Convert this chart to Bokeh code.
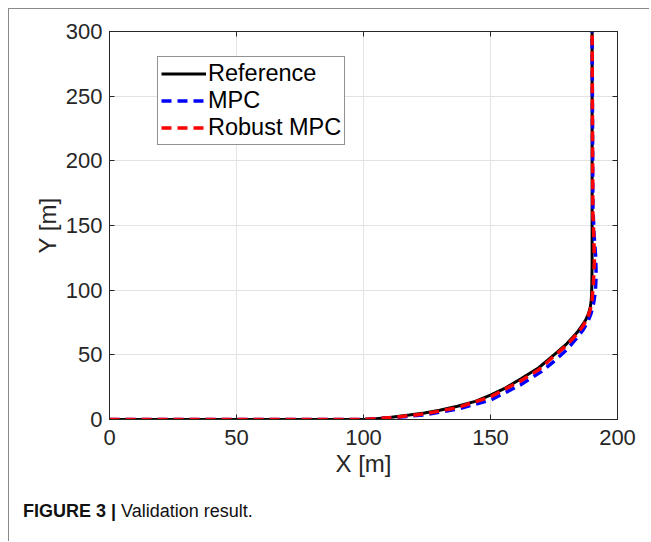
from bokeh.plotting import figure
from bokeh.models import (Range1d, LinearAxis, FixedTicker, Legend, LegendItem, Div)
from bokeh.layouts import column
from bokeh.embed import file_html
from bokeh.resources import INLINE

# ---- data ----
ref_x = [0, 100, 105, 111, 118, 124, 130, 137, 144, 150, 156, 162, 169, 175, 180, 184, 186, 187.5, 188.5, 189.2, 189.6, 189.8, 189.9, 190, 190]
ref_y = [0, 0, 0.6, 1.8, 3.4, 5, 7.2, 10.2, 14, 18.8, 24.5, 31.5, 40, 50, 58.5, 67, 72.5, 77, 81.5, 86, 91, 97, 105, 120, 300]

mpc_x = [0, 100, 111, 124, 137, 150, 162, 170, 175, 180, 184, 186.5, 188.3, 189.6, 190.6, 191.3, 191.6, 191.4, 190.8, 190.3, 190]
mpc_y = [0, 0, 1.3, 3.6, 8, 15, 27, 37, 45, 54, 63, 69.5, 75.5, 82, 90, 99, 112, 126, 142, 165, 300]

rob_x = [0, 100, 111, 124, 137, 150, 162, 169, 175, 180, 184, 186.5, 188.2, 189.3, 190, 190.5, 190.9, 190.7, 190.3, 190]
rob_y = [0, 0, 1.5, 4.3, 9.2, 17.5, 30, 38.5, 49, 57.5, 66, 72.5, 78.5, 85, 93, 105, 122, 140, 160, 300]

x_ticks = [0, 50, 100, 150, 200]
y_ticks = [0, 50, 100, 150, 200, 250, 300]

series_labels = ["Reference", "MPC", "Robust MPC"]
caption_bold = "FIGURE 3 |"
caption_text = "Validation result."

FONT = "Liberation Sans"
AX = "#262626"

p = figure(width=640, height=486, output_backend="svg", toolbar_location=None,
           x_range=Range1d(0, 200), y_range=Range1d(0, 300),
           min_border_left=100, min_border_right=32, min_border_top=22, min_border_bottom=76)
p.background_fill_color = "white"
p.border_fill_color = "white"
p.outline_line_color = AX
p.outline_line_width = 1

for ax, ticks in ((p.xaxis[0], x_ticks), (p.yaxis[0], y_ticks)):
    ax.ticker = FixedTicker(ticks=ticks)
    ax.major_tick_in = 5
    ax.major_tick_out = 0
    ax.minor_tick_line_color = None
    ax.axis_line_color = AX
    ax.major_tick_line_color = AX
    ax.major_label_text_font = FONT
    ax.major_label_text_font_size = "22px"
    ax.major_label_text_color = AX
    ax.axis_label_text_font = FONT
    ax.axis_label_text_font_size = "24px"
    ax.axis_label_text_font_style = "normal"
    ax.axis_label_text_color = AX

p.xaxis.major_label_standoff = 10
p.xaxis.axis_label_standoff = 2
p.yaxis.major_label_standoff = 7
p.yaxis.axis_label_standoff = 2

p.xaxis.axis_label = "X [m]"
p.yaxis.axis_label = "Y [m]"

ax_top = LinearAxis(ticker=FixedTicker(ticks=x_ticks), major_tick_in=5, major_tick_out=0,
                    minor_tick_line_color=None, axis_line_color=AX, major_tick_line_color=AX,
                    major_label_text_color=None, major_label_standoff=0)
ax_right = LinearAxis(ticker=FixedTicker(ticks=y_ticks), major_tick_in=5, major_tick_out=0,
                      minor_tick_line_color=None, axis_line_color=AX, major_tick_line_color=AX,
                      major_label_text_color=None, major_label_standoff=0)
p.add_layout(ax_top, "above")
p.add_layout(ax_right, "right")

p.xgrid.ticker = FixedTicker(ticks=x_ticks)
p.ygrid.ticker = FixedTicker(ticks=y_ticks)
p.grid.grid_line_color = "#e3e3e3"
p.grid.grid_line_width = 1

r_ref = p.line(ref_x, ref_y, line_color="black", line_width=3)
r_mpc = p.line(mpc_x, mpc_y, line_color="#0000ff", line_width=3.5, line_dash="10 6")
r_rob = p.line(rob_x, rob_y, line_color="#ff0000", line_width=3.5, line_dash="10 6")

legend = Legend(items=[LegendItem(label=series_labels[0], renderers=[r_ref]),
                       LegendItem(label=series_labels[1], renderers=[r_mpc]),
                       LegendItem(label=series_labels[2], renderers=[r_rob])],
                location=(48, 274))
legend.label_text_font = FONT
legend.label_text_font_size = "23.5px"
legend.label_text_color = "black"
legend.glyph_width = 45
legend.glyph_height = 25
legend.label_standoff = 2
legend.label_height = 25
legend.spacing = 0
legend.padding = 3
legend.margin = 0
legend.border_line_color = AX
legend.border_line_width = 1
legend.background_fill_color = "white"
legend.background_fill_alpha = 1
p.add_layout(legend, "center")

cap = Div(text=f"<b>{caption_bold}</b> {caption_text}", width=630, height=46,
          styles={"font-family": "Liberation Sans", "font-size": "18px", "color": "#111111",
                  "padding-left": "14px", "padding-top": "4px", "margin": "0"})

layout = column(p, cap, spacing=0,
                styles={"margin-left": "8px", "margin-top": "8px",
                        "border-top": "1px solid #8a8a8a", "border-left": "1px solid #8a8a8a"})

open("out.html", "w").write(file_html(layout, INLINE))
